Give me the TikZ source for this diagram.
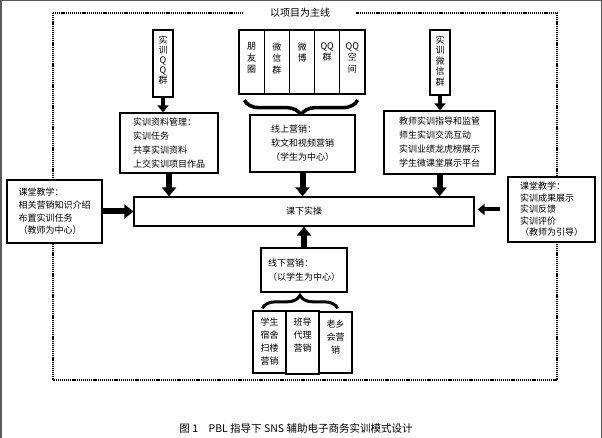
\documentclass[tikz,border=0pt]{standalone}
\usepackage{fontspec}
\setmainfont{Noto Sans CJK SC}
\usepackage{tikz}
\usetikzlibrary{arrows.meta}
\usetikzlibrary{decorations.pathreplacing}
\usepackage{color}
\definecolor{framegray}{RGB}{90, 90, 90}

\begin{document}
\begin{tikzpicture}[x=1pt, y=-1pt,
        box/.style={draw, line width=1.3pt, fill=white, inner sep=0pt, align=left, font=\fontsize{9}{14}\selectfont},
        vbox/.style={draw, line width=1.3pt, fill=white, inner sep=0pt},
        vtext/.style={anchor=north, align=center, inner sep=0pt, font=\fontsize{9}{11.5}\selectfont},
        bigarrow/.style={line width=6pt, -{Triangle[length=9pt, width=14pt]}},
        smallarrow/.style={line width=4pt, -{Triangle[length=7pt, width=11pt]}},
        bracket/.style={decorate, decoration={brace, amplitude=#1}, line width=3.5pt}]
            \useasboundingbox (0,0) rectangle (602,438);
            \draw[framegray, line width=1.5pt] (0.75,438) -- (0.75,0.75) -- (601.25,0.75) -- (601.25,438);
            \draw[line width=1.2pt, dash pattern=on 1.2pt off 0.9pt] (53,13) rectangle (557,380);
            \node[fill=white, inner xsep=26pt, inner ysep=2pt, font=\fontsize{10}{12}\selectfont] (title) at (300,13) {以项目为主线};
            % left column
            \node[vbox, minimum width=20pt, minimum height=67pt,
                 label={[vtext, yshift=-6pt, font=\fontsize{9}{10.2}\selectfont]north:实\\训\\Q\\Q\\群}] (qqgroup) at (163,63.5) {};
            \node[box, minimum width=98pt, minimum height=60pt] (material) at (169,143) {实训资料管理：\\实训任务\\共享实训资料\\上交实训项目作品};
            % middle column
            \node[vbox, minimum width=25.2pt, minimum height=64pt, label={[vtext, yshift=-13pt]north:朋\\友\\圈}]  (moments) at (251.6,62) {};
            \node[vbox, minimum width=25.2pt, minimum height=64pt, label={[vtext, yshift=-13pt]north:微\\信\\群}]  (wechat)  at (276.8,62) {};
            \node[vbox, minimum width=25.2pt, minimum height=64pt, label={[vtext, yshift=-13pt]north:微\\博}]      (weibo)   at (302.0,62) {};
            \node[vbox, minimum width=25.2pt, minimum height=64pt, label={[vtext, yshift=-13pt]north:QQ\\群}]      (qqqun)   at (327.2,62) {};
            \node[vbox, minimum width=25.2pt, minimum height=64pt, label={[vtext, yshift=-13pt]north:QQ\\空\\间}]  (qzone)   at (352.4,62) {};
            \draw[bracket=15pt] ([xshift=-8pt, yshift=-5.5pt]qzone.south east) -- ([xshift=6pt, yshift=-5.5pt]moments.south west);
            \node[box, minimum width=105pt, minimum height=57pt] (online) at (302.5,143.5) {线上营销：\\软文和视频营销\\（学生为中心）};
            % right column
            \node[vbox, minimum width=20pt, minimum height=65pt,
                 label={[vtext, yshift=-6pt, font=\fontsize{9}{10.5}\selectfont]north:实\\训\\微\\信\\群}] (wxgroup) at (440,62.5) {};
            \node[box, minimum width=111pt, minimum height=63pt] (teacher) at (439.5,142.5) {教师实训指导和监管\\师生实训交流互动\\实训业绩龙虎榜展示\\学生微课堂展示平台};
            % centre row
            \node[box, minimum width=340pt, minimum height=29pt] (practice) at (304,211.5) {课下实操};
            \node[box, minimum width=95pt, minimum height=63pt, font=\fontsize{9}{12.7}\selectfont] (lecture) at (54.5,211.5) {课堂教学：\\相关营销知识介绍\\布置实训任务\\（教师为中心）};
            \node[box, minimum width=87pt, minimum height=65pt, font=\fontsize{9}{11.5}\selectfont] (review) at (551.5,209.5) {课堂教学：\\实训成果展示\\实训反馈\\实训评价\\（教师为引导）};
            % bottom column
            \node[box, minimum width=86pt, minimum height=44pt] (offline) at (304,270) {线下营销：\\（以学生为中心）};
            \node[vbox, minimum width=33pt, minimum height=62pt, label={[vtext, yshift=-7pt, font=\fontsize{9}{13}\selectfont]north:学生\\宿舍\\扫楼\\营销}] (dorm)     at (269.5,342)   {};
            \node[vbox, minimum width=33pt, minimum height=63pt, label={[vtext, yshift=-7pt, font=\fontsize{9}{13}\selectfont]north:班导\\代理\\营销}]       (monitor)  at (302.5,342.5) {};
            \node[vbox, minimum width=33pt, minimum height=61pt, label={[vtext, yshift=-8pt, font=\fontsize{9}{13}\selectfont]north:老乡\\会营\\销}]         (hometown) at (335.5,342.5) {};
            \draw[bracket=13pt, line width=3pt] ([xshift=10pt, yshift=2pt]dorm.north west) -- ([xshift=-15pt, yshift=3pt]hometown.north east);
            % arrows
            \draw[smallarrow] (qqgroup.south) -- (qqgroup.south |- material.north);
            \draw[bigarrow]   (material.south) -- (material.south |- practice.north);
            \draw[bigarrow]   (online.south) -- (online.south |- practice.north);
            \draw[smallarrow] (wxgroup.south) -- (wxgroup.south |- teacher.north);
            \draw[bigarrow]   (teacher.south) -- (teacher.south |- practice.north);
            \draw[bigarrow]   (lecture.east) -- (lecture.east -| practice.west);
            \draw[smallarrow, shorten <=7pt, shorten >=3pt] (review.west) -- (review.west -| practice.east);
            \draw[bigarrow]   (offline.north) -- (offline.north |- practice.south);
            \node[font=\fontsize{10.5}{12}\selectfont] (caption) at (296,428) {图 1\quad PBL 指导下 SNS 辅助电子商务实训模式设计};
        \end{tikzpicture}
\end{document}
